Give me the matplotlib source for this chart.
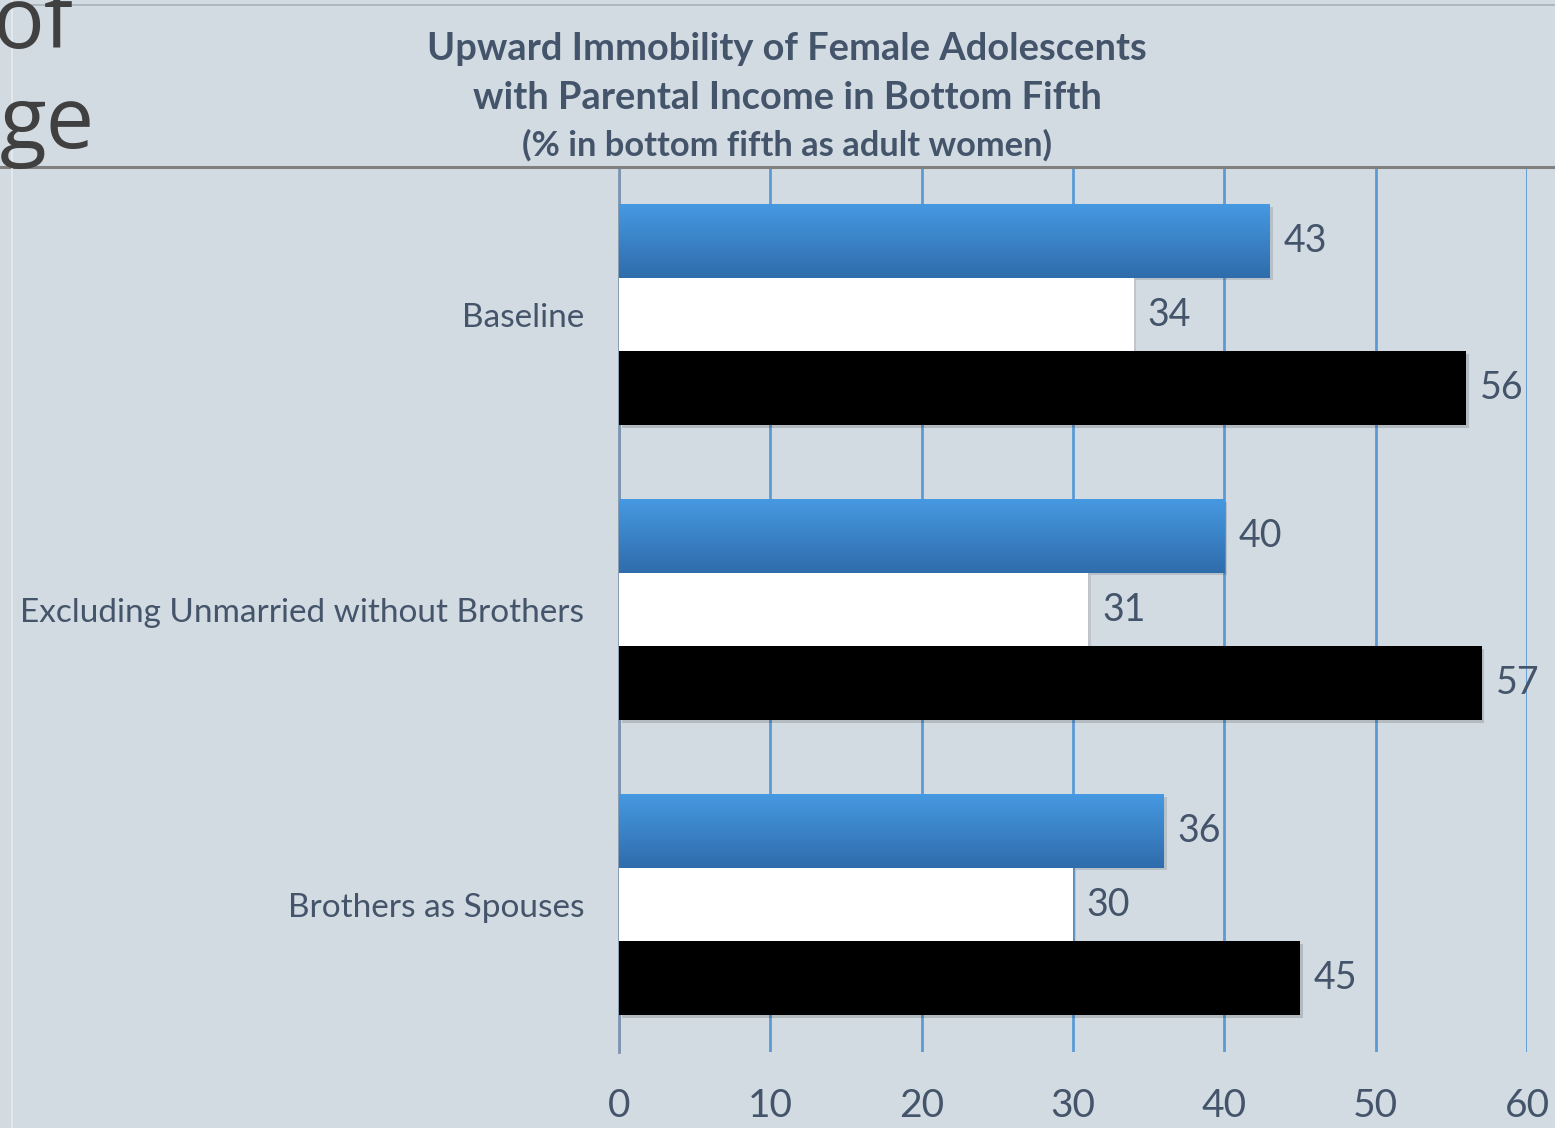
import numpy as np
import matplotlib
matplotlib.use("Agg")
import matplotlib.pyplot as plt
from matplotlib.colors import LinearSegmentedColormap
from matplotlib.lines import Line2D
import matplotlib.patheffects as pe

categories = ["Baseline", "Excluding Unmarried without Brothers", "Brothers as Spouses"]
series_blue = [43, 40, 36]
series_white = [34, 31, 30]
series_black = [56, 57, 45]
xticks = [0, 10, 20, 30, 40, 50, 60]
title_lines = ["Upward Immobility of Female Adolescents",
               "with Parental Income in Bottom Fifth",
               "(% in bottom fifth as adult women)"]

BG = "#d3dbe2"
TXT = "#44546a"
GRID = "#5b9ad6"
FONT = ["Lato", "DejaVu Sans"]

fig = plt.figure(figsize=(15.55, 11.28), dpi=100, facecolor=BG)
ax = fig.add_axes([619/1555, 1-1052/1128, (1527-619)/1555, (1052-167)/1128])
ax.set_facecolor(BG)

y = np.arange(len(categories))
h = 0.25
shadow = [pe.SimplePatchShadow(offset=(2, -2), alpha=0.15), pe.Normal()]
b1 = ax.barh(y - h, series_blue, height=h, color="#3f8ad2", zorder=3, path_effects=shadow)
b2 = ax.barh(y, series_white, height=h, color="white", zorder=3, path_effects=shadow)
b3 = ax.barh(y + h, series_black, height=h, color="black", zorder=3, path_effects=shadow)

cmap = LinearSegmentedColormap.from_list("bl", ["#4699e2", "#2f6cab"])
grad = np.linspace(0, 1, 256).reshape(-1, 1)
for bar in b1:
    x0, y0 = bar.get_xy()
    w, hh = bar.get_width(), bar.get_height()
    im = ax.imshow(grad, cmap=cmap, aspect="auto", extent=(x0, x0 + w, y0 + hh, y0),
                   zorder=3.5, interpolation="bilinear")
    im.set_clip_path(bar)

for bars, vals in ((b1, series_blue), (b2, series_white), (b3, series_black)):
    for bar, v in zip(bars, vals):
        ax.annotate(f"{v}", (v, bar.get_y() + bar.get_height()/2), xytext=(10, 0),
                    textcoords="offset points", ha="left", va="center",
                    fontsize=27, color=TXT, family=FONT, zorder=5)

ax.set_xlim(0, 60)
ax.set_ylim(2.5, -0.5)
ax.set_xticks(xticks)
ax.set_xticklabels([str(t) for t in xticks], fontsize=28, color=TXT, family=FONT)
ax.set_yticks(y)
ax.set_yticklabels(categories, fontsize=24, color=TXT, family=FONT)
ax.tick_params(axis="x", length=0, pad=26)
ax.tick_params(axis="y", length=0, pad=25)
ax.set_axisbelow(True)
ax.xaxis.grid(True, color=GRID, lw=2)
for s in ["top", "right", "bottom"]:
    ax.spines[s].set_visible(False)
ax.spines["left"].set_color("#7f95ad")
ax.spines["left"].set_linewidth(2)

# title
fig.text(787/1555, 1-49/1128, title_lines[0], ha="center", va="center",
         fontsize=27.4, fontweight="bold", color=TXT, family=FONT)
fig.text(787/1555, 1-98/1128, title_lines[1], ha="center", va="center",
         fontsize=27.4, fontweight="bold", color=TXT, family=FONT)
fig.text(787/1555, 1-145/1128, title_lines[2], ha="center", va="center",
         fontsize=24.8, fontweight="bold", color=TXT, family=FONT)

# slide remnants
fig.text(73/1555, 1-48/1128, "of", ha="right", va="baseline", fontsize=62,
         color="#404040", family=["Open Sans", "DejaVu Sans"])
fig.text(95/1555, 1-148/1128, "ge", ha="right", va="baseline", fontsize=62,
         color="#404040", family=["Open Sans", "DejaVu Sans"])
fig.add_artist(Line2D([0, 1], [1-167/1128]*2, color="#808080", lw=2.2, transform=fig.transFigure))
fig.add_artist(Line2D([12/1555]*2, [0, 1], color="#e6ebef", lw=1.2, transform=fig.transFigure))
fig.add_artist(Line2D([12/1555, 1], [1-5/1128]*2, color="#a8b0b8", lw=1.2, transform=fig.transFigure))

fig.savefig("out.png", dpi=100, facecolor=BG)
